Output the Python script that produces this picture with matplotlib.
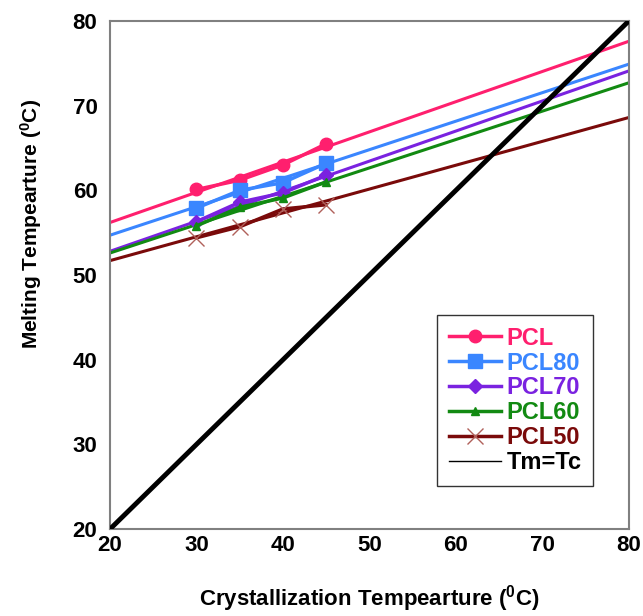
import numpy as np
import matplotlib.pyplot as plt

plt.rcParams['font.family'] = ['Liberation Sans', 'DejaVu Sans']
plt.rcParams['font.weight'] = 'bold'
plt.rcParams['mathtext.default'] = 'regular'

# measured points
tc = [30, 35, 40, 45]
tm_pcl = [60.1, 61.2, 63.0, 65.5]
tm_pcl80 = [57.9, 60.0, 60.9, 63.2]
tm_pcl70 = [56.3, 58.6, 59.7, 61.8]
tm_pcl60 = [55.8, 58.0, 59.1, 61.0]
tm_pcl50 = [54.4, 55.7, 57.8, 58.3]

# linear extrapolation lines (values read at Tc = 20 and Tc = 80)
fit_x = [20, 80]
fit_pcl = [56.2, 77.6]
fit_pcl80 = [54.7, 74.9]
fit_pcl70 = [52.8, 74.1]
fit_pcl60 = [52.6, 72.7]
fit_pcl50 = [51.7, 68.6]

diag = [20, 80]

series = [
    ("PCL", tm_pcl, fit_pcl, "#FF1F6E", "o", 9, "#FF1F6E"),
    ("PCL80", tm_pcl80, fit_pcl80, "#3A86FF", "s", 10, "#3A86FF"),
    ("PCL70", tm_pcl70, fit_pcl70, "#7A22E0", "D", 7, "#7A22E0"),
    ("PCL60", tm_pcl60, fit_pcl60, "#128A12", "^", 6, "#128A12"),
    ("PCL50", tm_pcl50, fit_pcl50, "#7A0A0A", "x", 12, "#B0605A"),
]

fig = plt.figure(figsize=(6.43, 6.16), dpi=100)
ax = fig.add_axes([0.171, 0.141, 0.807, 0.825])

for name, y, fy, clr, mk, ms, mclr in series:
    ax.plot(fit_x, fy, color=clr, lw=2.2, zorder=2)
    ax.plot(tc, y, color=clr, lw=2.5, marker=mk, ms=ms, mfc=mclr, mec=mclr,
            mew=1, label=name, zorder=3)

ax.plot(diag, diag, color="black", lw=3.5, zorder=4)
ax.plot([], [], color="black", lw=1, label="Tm=Tc")

ax.set_xlim(20, 80)
ax.set_ylim(20, 80)
ax.set_xticks(range(20, 81, 10))
ax.set_yticks(range(20, 81, 10))
ax.tick_params(axis='x', length=0, labelsize=16, pad=4)
ax.tick_params(axis='y', length=0, labelsize=16, pad=9)
for lab in ax.get_xticklabels() + ax.get_yticklabels():
    lab.set_fontweight('bold')
for sp in ax.spines.values():
    sp.set_color("#808080")
    sp.set_linewidth(1.5)

ax.set_xlabel("Crystallization Tempearture ($^0$C)", fontsize=16,
              fontweight='bold', labelpad=20)
ax.set_ylabel("Melting Tempearture ($^0$C)", fontsize=15,
              fontweight='bold')
ax.yaxis.set_label_coords(-0.128, 0.60)

leg = ax.legend(loc="lower left", bbox_to_anchor=(0.63, 0.085), fontsize=17,
                frameon=True, fancybox=False, edgecolor="black",
                handlelength=2.2, handletextpad=0.25, labelspacing=0.08,
                borderpad=0.5, borderaxespad=0)
leg.get_frame().set_linewidth(1)
for txt, line in zip(leg.get_texts(), leg.get_lines()):
    txt.set_color(line.get_color())
    txt.set_fontweight('bold')

plt.savefig("out.png", dpi=100)
plt.close()
